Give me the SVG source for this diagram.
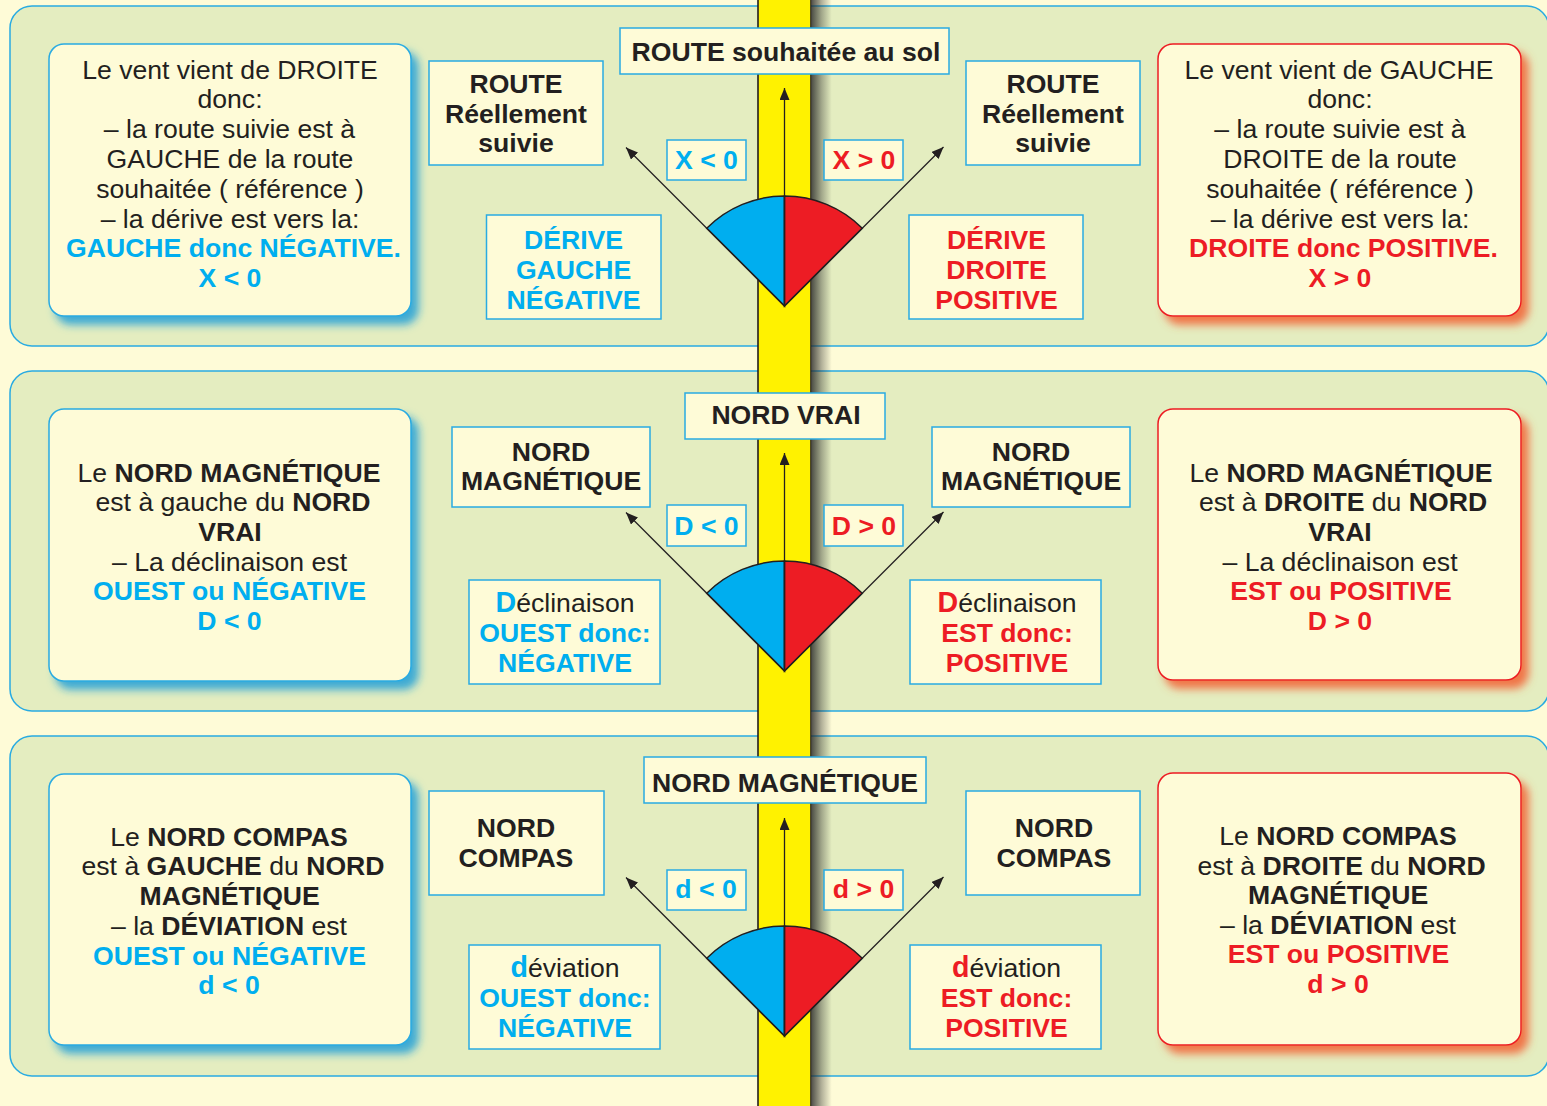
<svg xmlns="http://www.w3.org/2000/svg" width="1547" height="1106" viewBox="0 0 1547 1106">
<style>
.t{font-family:"Liberation Sans",Arial,Helvetica,sans-serif;font-size:26.6px;fill:#231F20;text-anchor:middle}
.b{font-weight:bold}
.bl{fill:#00AEEF}
.rd{fill:#ED1C24}
.big{font-size:28.6px;font-weight:bold}
.panel{fill:#E4EDC0;stroke:#29ABE2;stroke-width:1.5}
.box{fill:#FEFBD7;stroke:#29ABE2;stroke-width:1.5}
.sbox{fill:#FEFBD7;stroke:#29ABE2;stroke-width:1.5}
.rbox{fill:#FEFBD7;stroke:#ED1C24;stroke-width:1.5}
.ar{stroke:#231F20;stroke-width:1.3;fill:none;marker-end:url(#ah)}
.secb{fill:#00AEEF;stroke:#231F20;stroke-width:1.5;stroke-linejoin:miter}
.secr{fill:#ED1C24;stroke:#231F20;stroke-width:1.5;stroke-linejoin:miter}
</style>
<defs>
<marker id="ah" viewBox="0 0 12 10" refX="12" refY="5" markerWidth="12" markerHeight="10" markerUnits="userSpaceOnUse" orient="auto">
<path d="M0,0 L12,5 L0,10 Z" fill="#231F20"/>
</marker>
<filter id="shb" x="-10%" y="-10%" width="125%" height="130%">
<feDropShadow dx="7" dy="8" stdDeviation="4.5" flood-color="#1E9FD8" flood-opacity="0.85"/>
</filter>
<filter id="shr" x="-10%" y="-10%" width="125%" height="130%">
<feDropShadow dx="7" dy="8" stdDeviation="4.5" flood-color="#F2683A" flood-opacity="0.9"/>
</filter>
<linearGradient id="strsh" x1="0" y1="0" x2="1" y2="0">
<stop offset="0" stop-color="#2a2a2a" stop-opacity="0.8"/>
<stop offset="0.5" stop-color="#2a2a2a" stop-opacity="0.35"/>
<stop offset="1" stop-color="#2a2a2a" stop-opacity="0"/>
</linearGradient>
</defs>

<rect x="0" y="0" width="1547" height="1106" fill="#FEFBD7"/>

<g id="panels">
<rect class="panel" x="10" y="6" width="1539" height="340" rx="22"/>
<rect class="panel" x="10" y="371" width="1539" height="340" rx="22"/>
<rect class="panel" x="10" y="736" width="1539" height="340" rx="22"/>
</g>

<g id="strip">
<rect x="758" y="-2" width="53" height="1110" fill="#FFF200" stroke="#231F20" stroke-width="1.6"/>
<rect x="811.8" y="0" width="20" height="1106" fill="url(#strsh)"/>
</g>

<!-- Panel 1 -->
<g id="p1-left">
<rect class="sbox" x="49" y="44" width="362" height="272" rx="15" filter="url(#shb)"/>
<text class="t" x="230" y="78.5">Le vent vient de DROITE</text>
<text class="t" x="230" y="108.3">donc:</text>
<text class="t" x="229.5" y="138.1">– la route suivie est à</text>
<text class="t" x="230" y="167.9">GAUCHE de la route</text>
<text class="t" x="230" y="197.7">souhaitée ( référence )</text>
<text class="t" x="230" y="227.5">– la dérive est vers la:</text>
<text class="t b bl" x="233.5" y="257.3">GAUCHE donc NÉGATIVE.</text>
<text class="t b bl" x="230" y="287.1">X &lt; 0</text>
</g>
<g id="p1-right">
<rect class="rbox" x="1158" y="44" width="363" height="272" rx="15" filter="url(#shr)"/>
<text class="t" x="1339" y="78.5">Le vent vient de GAUCHE</text>
<text class="t" x="1340" y="108.3">donc:</text>
<text class="t" x="1340" y="138.1">– la route suivie est à</text>
<text class="t" x="1340" y="167.9">DROITE de la route</text>
<text class="t" x="1340" y="197.7">souhaitée ( référence )</text>
<text class="t" x="1340" y="227.5">– la dérive est vers la:</text>
<text class="t b rd" x="1343.5" y="257.3">DROITE donc POSITIVE.</text>
<text class="t b rd" x="1340" y="287.1">X &gt; 0</text>
</g>
<g id="p1-route-ref">
<rect class="box" x="620" y="28" width="329" height="46"/>
<text class="t b" x="786" y="60.5">ROUTE souhaitée au sol</text>
</g>
<g id="p1-route-left">
<rect class="box" x="429" y="61" width="174" height="104"/>
<text class="t b" x="516" y="93.3">ROUTE</text>
<text class="t b" x="516" y="122.7">Réellement</text>
<text class="t b" x="516" y="151.7">suivie</text>
</g>
<g id="p1-route-right">
<rect class="box" x="966" y="61" width="174" height="104"/>
<text class="t b" x="1053" y="93.3">ROUTE</text>
<text class="t b" x="1053" y="122.7">Réellement</text>
<text class="t b" x="1053" y="151.7">suivie</text>
</g>
<g id="p1-xneg">
<rect class="box" x="667" y="140" width="79" height="40"/>
<text class="t b bl" x="706.5" y="169">X &lt; 0</text>
</g>
<g id="p1-xpos">
<rect class="box" x="824" y="140" width="79" height="40"/>
<text class="t b rd" x="864" y="169">X &gt; 0</text>
</g>
<g id="p1-derive-left">
<rect class="box" x="486.5" y="215" width="174.5" height="104"/>
<text class="t b bl" x="573.5" y="249.3">DÉRIVE</text>
<text class="t b bl" x="573.5" y="279.3">GAUCHE</text>
<text class="t b bl" x="573.5" y="308.8">NÉGATIVE</text>
</g>
<g id="p1-derive-right">
<rect class="box" x="909" y="215" width="174" height="104"/>
<text class="t b rd" x="996.5" y="249.3">DÉRIVE</text>
<text class="t b rd" x="996.5" y="279.3">DROITE</text>
<text class="t b rd" x="996.5" y="308.8">POSITIVE</text>
</g>

<!-- Panel 2 -->
<g id="p2-left">
<rect class="sbox" x="49" y="409" width="362" height="272" rx="15" filter="url(#shb)"/>
<text class="t" x="229" y="481.5">Le <tspan class="b">NORD MAGNÉTIQUE</tspan></text>
<text class="t" x="233" y="511">est à gauche du <tspan class="b">NORD</tspan></text>
<text class="t b" x="230" y="540.8">VRAI</text>
<text class="t" x="229.5" y="570.6">– La déclinaison est</text>
<text class="t b bl" x="229.5" y="600.4">OUEST ou NÉGATIVE</text>
<text class="t b bl" x="229.5" y="630.2">D &lt; 0</text>
</g>
<g id="p2-right">
<rect class="rbox" x="1158" y="409" width="363" height="271" rx="15" filter="url(#shr)"/>
<text class="t" x="1341" y="481.5">Le <tspan class="b">NORD MAGNÉTIQUE</tspan></text>
<text class="t" x="1343" y="511">est à <tspan class="b">DROITE</tspan> du <tspan class="b">NORD</tspan></text>
<text class="t b" x="1340" y="540.8">VRAI</text>
<text class="t" x="1340" y="570.6">– La déclinaison est</text>
<text class="t b rd" x="1341" y="600.4">EST ou POSITIVE</text>
<text class="t b rd" x="1340" y="630.2">D &gt; 0</text>
</g>
<g id="p2-ref">
<rect class="box" x="685" y="393" width="200" height="46"/>
<text class="t b" x="786" y="424.3">NORD VRAI</text>
</g>
<g id="p2-nm-left">
<rect class="box" x="452" y="427" width="198" height="80"/>
<text class="t b" x="551" y="460.7">NORD</text>
<text class="t b" x="551" y="490">MAGNÉTIQUE</text>
</g>
<g id="p2-nm-right">
<rect class="box" x="932" y="427" width="198" height="80"/>
<text class="t b" x="1031" y="460.7">NORD</text>
<text class="t b" x="1031" y="490">MAGNÉTIQUE</text>
</g>
<g id="p2-dneg">
<rect class="box" x="667" y="505" width="79" height="41"/>
<text class="t b bl" x="706.5" y="535">D &lt; 0</text>
</g>
<g id="p2-dpos">
<rect class="box" x="824" y="505" width="79" height="41"/>
<text class="t b rd" x="864" y="535">D &gt; 0</text>
</g>
<g id="p2-decl-left">
<rect class="box" x="469" y="580" width="191" height="104"/>
<text class="t" x="565" y="611.7"><tspan class="big bl">D</tspan>éclinaison</text>
<text class="t b bl" x="565" y="641.7">OUEST donc:</text>
<text class="t b bl" x="565" y="671.7">NÉGATIVE</text>
</g>
<g id="p2-decl-right">
<rect class="box" x="910" y="580" width="191" height="104"/>
<text class="t" x="1007" y="611.7"><tspan class="big rd">D</tspan>éclinaison</text>
<text class="t b rd" x="1007" y="641.7">EST donc:</text>
<text class="t b rd" x="1007" y="671.7">POSITIVE</text>
</g>

<!-- Panel 3 -->
<g id="p3-left">
<rect class="sbox" x="49" y="774" width="362" height="271" rx="15" filter="url(#shb)"/>
<text class="t" x="229" y="845.7">Le <tspan class="b">NORD COMPAS</tspan></text>
<text class="t" x="233" y="875.3">est à <tspan class="b">GAUCHE</tspan> du <tspan class="b">NORD</tspan></text>
<text class="t b" x="229.7" y="905">MAGNÉTIQUE</text>
<text class="t" x="229" y="934.8">– la <tspan class="b">DÉVIATION</tspan> est</text>
<text class="t b bl" x="229.5" y="964.6">OUEST ou NÉGATIVE</text>
<text class="t b bl" x="229" y="994.3">d &lt; 0</text>
</g>
<g id="p3-right">
<rect class="rbox" x="1158" y="773" width="363" height="272" rx="15" filter="url(#shr)"/>
<text class="t" x="1338" y="845">Le <tspan class="b">NORD COMPAS</tspan></text>
<text class="t" x="1341.5" y="874.5">est à <tspan class="b">DROITE</tspan> du <tspan class="b">NORD</tspan></text>
<text class="t b" x="1338" y="904">MAGNÉTIQUE</text>
<text class="t" x="1338" y="933.5">– la <tspan class="b">DÉVIATION</tspan> est</text>
<text class="t b rd" x="1338.5" y="963.3">EST ou POSITIVE</text>
<text class="t b rd" x="1338" y="993">d &gt; 0</text>
</g>
<g id="p3-ref">
<rect class="box" x="644" y="757" width="282" height="46"/>
<text class="t b" x="785" y="791.7">NORD MAGNÉTIQUE</text>
</g>
<g id="p3-nc-left">
<rect class="box" x="429" y="791" width="175" height="104"/>
<text class="t b" x="516" y="836.7">NORD</text>
<text class="t b" x="516" y="866.7">COMPAS</text>
</g>
<g id="p3-nc-right">
<rect class="box" x="966" y="791" width="174" height="104"/>
<text class="t b" x="1054" y="836.7">NORD</text>
<text class="t b" x="1054" y="866.7">COMPAS</text>
</g>
<g id="p3-dneg">
<rect class="box" x="667" y="870" width="79" height="40"/>
<text class="t b bl" x="706" y="898">d &lt; 0</text>
</g>
<g id="p3-dpos">
<rect class="box" x="824" y="870" width="79" height="40"/>
<text class="t b rd" x="863.5" y="898">d &gt; 0</text>
</g>
<g id="p3-dev-left">
<rect class="box" x="469" y="945" width="191" height="104"/>
<text class="t" x="565" y="976.7"><tspan class="big bl">d</tspan>éviation</text>
<text class="t b bl" x="565" y="1006.7">OUEST donc:</text>
<text class="t b bl" x="565" y="1036.7">NÉGATIVE</text>
</g>
<g id="p3-dev-right">
<rect class="box" x="910" y="945" width="191" height="104"/>
<text class="t" x="1006.5" y="976.7"><tspan class="big rd">d</tspan>éviation</text>
<text class="t b rd" x="1006.5" y="1006.7">EST donc:</text>
<text class="t b rd" x="1006.5" y="1036.7">POSITIVE</text>
</g>

<!-- Sectors -->
<g id="sectors">
<path class="secb" d="M784.5,306 L706.72,228.22 A110,110 0 0 1 784.5,196 Z"/>
<path class="secr" d="M784.5,306 L784.5,196 A110,110 0 0 1 862.28,228.22 Z"/>
<path class="secb" d="M784.5,671 L706.72,593.22 A110,110 0 0 1 784.5,561 Z"/>
<path class="secr" d="M784.5,671 L784.5,561 A110,110 0 0 1 862.28,593.22 Z"/>
<path class="secb" d="M784.5,1036 L706.72,958.22 A110,110 0 0 1 784.5,926 Z"/>
<path class="secr" d="M784.5,1036 L784.5,926 A110,110 0 0 1 862.28,958.22 Z"/>
</g>

<g id="connectors">
<line class="ar" x1="784.5" y1="306" x2="784.5" y2="88"/>
<line class="ar" x1="784.5" y1="306" x2="626" y2="147.5"/>
<line class="ar" x1="784.5" y1="306" x2="943.5" y2="147"/>
<line class="ar" x1="784.5" y1="671" x2="784.5" y2="453"/>
<line class="ar" x1="784.5" y1="671" x2="626" y2="512.5"/>
<line class="ar" x1="784.5" y1="671" x2="943.5" y2="512"/>
<line class="ar" x1="784.5" y1="1036" x2="784.5" y2="818"/>
<line class="ar" x1="784.5" y1="1036" x2="626" y2="877.5"/>
<line class="ar" x1="784.5" y1="1036" x2="943.5" y2="877"/>
</g>
</svg>
